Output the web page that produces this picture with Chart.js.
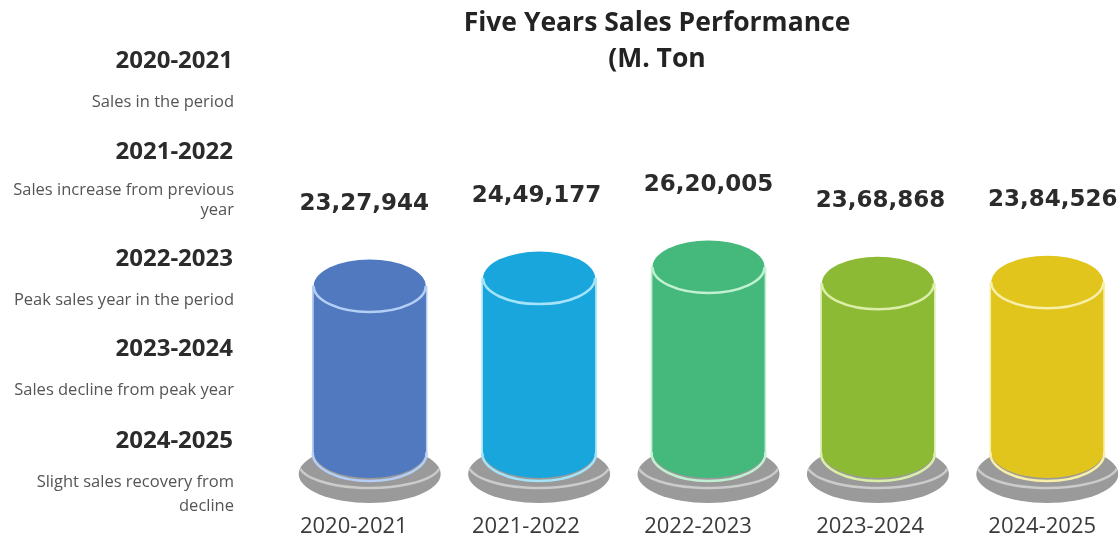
<!DOCTYPE html>
<html>
<head>
<meta charset="utf-8">
<title>Five Years Sales Performance</title>
<script src="https://cdn.jsdelivr.net/npm/chart.js@4"></script>
<style>
    html, body {margin: 0; padding: 0; background: #ffffff; overflow: hidden;}
    #frame {width: 1118px; height: 538px; overflow: hidden;}
    canvas {display: block;}
</style>
</head>
<body>
<div id="frame"><canvas id="sales_chart" width="1132" height="538"></canvas></div>
<script>
var categories = ["2020-2021", "2021-2022", "2022-2023", "2023-2024", "2024-2025"];
var sales_values = [2327944, 2449177, 2620005, 2368868, 2384526];
var value_labels = ["23,27,944", "24,49,177", "26,20,005", "23,68,868", "23,84,526"];
var title_lines = ["Five Years Sales Performance", "(M. Ton"];
var side_headings = ["2020-2021", "2021-2022", "2022-2023", "2023-2024", "2024-2025"];
var side_notes = [
    ["Sales in the period"],
    ["Sales increase from previous", "year"],
    ["Peak sales year in the period"],
    ["Sales decline from peak year"],
    ["Slight sales recovery from", "decline"]
];

var body_colors = ["#5079bf", "#19a6dd", "#45b97c", "#8dba35", "#e1c51d"];
var rim_colors = ["#b4cef5", "#a5e3f8", "#c2f0d3", "#dcefaa", "#f8efa8"];

// The cylinders stand on a floor below zero, the picture never starts its axis at 0
var axis_floor = -223600;
var axis_ceiling = 6724000;

var heading_rows = [61, 152, 259, 349, 441];
var note_rows = [[102], [190, 210], [300], [390], [482, 506]];

function fill_ellipse (ctx, x, y, radius_x, radius_y, color) {
    ctx.beginPath();
    ctx.ellipse(x, y, radius_x, radius_y, 0, 0, Math.PI * 2);
    ctx.fillStyle = color;
    ctx.fill();
}

function stroke_lower_arc (ctx, x, y, radius_x, radius_y, color, width, trim) {
    ctx.beginPath();
    ctx.ellipse(x, y, radius_x, radius_y, 0, trim || 0, Math.PI - (trim || 0));
    ctx.strokeStyle = color;
    ctx.lineWidth = width;
    ctx.stroke();
}

var cylinder_plugin = {
    "id": "cylinder_plugin",
    "beforeDatasetsDraw": function (chart) {
        var ctx = chart.ctx;
        var bars = chart.getDatasetMeta(0).data;

        ctx.save();

        bars.forEach(function (bar, index) {
            var radius_x = bar.width / 2;

            // Grey dish under the cylinder
            fill_ellipse(ctx, bar.x, bar.base + 22, radius_x + 15, 29, "#9a9a9a");
            stroke_lower_arc(ctx, bar.x, bar.base + 12, radius_x + 15, 24, "#cbcbcb", 2.5, 0.2);

            fill_ellipse(ctx, bar.x, bar.base, radius_x, 26, body_colors[index]);
            stroke_lower_arc(ctx, bar.x, bar.base + 1, radius_x + 1, 28, rim_colors[index], 2.5);
        });

        ctx.restore();
    },
    "afterDatasetsDraw": function (chart) {
        var ctx = chart.ctx;
        var bars = chart.getDatasetMeta(0).data;

        ctx.save();

        bars.forEach(function (bar, index) {
            var radius_x = bar.width / 2;

            ctx.strokeStyle = rim_colors[index];
            ctx.lineWidth = 1.5;

            ctx.beginPath();
            ctx.moveTo(bar.x - radius_x - 1, bar.y);
            ctx.lineTo(bar.x - radius_x - 1, bar.base + 1);
            ctx.moveTo(bar.x + radius_x + 1, bar.y);
            ctx.lineTo(bar.x + radius_x + 1, bar.base + 1);
            ctx.stroke();

            fill_ellipse(ctx, bar.x, bar.y, radius_x, 26.5, body_colors[index]);
            stroke_lower_arc(ctx, bar.x, bar.y, radius_x, 26, rim_colors[index], 2.5);

            ctx.fillStyle = "#2b2b2b";
            ctx.font = "bold 23px 'DejaVu Sans'";
            ctx.textAlign = "center";
            ctx.textBaseline = "middle";
            ctx.fillText(value_labels[index], bar.x + (index - 2) * 2.7, bar.y - 82);
        });

        ctx.restore();
    }
};

var text_plugin = {
    "id": "text_plugin",
    "afterDraw": function (chart) {
        var ctx = chart.ctx;
        var x_scale = chart.scales.x;

        ctx.save();
        ctx.textBaseline = "middle";

        ctx.textAlign = "center";
        ctx.fillStyle = "#232323";
        ctx.font = "bold 26.5px 'Open Sans'";
        ctx.fillText(title_lines[0], 657, 23);
        ctx.fillText(title_lines[1], 657, 59);

        // Category labels drift a little from their bars in the picture
        ctx.fillStyle = "#3a3a3a";
        ctx.font = "22px 'Open Sans'";

        categories.forEach(function (category, index) {
            ctx.fillText(category, x_scale.getPixelForTick(index) + (index - 2) * 2.7 - 10.5, 527);
        });

        ctx.textAlign = "right";

        side_headings.forEach(function (heading, index) {
            ctx.fillStyle = "#2b2b2b";
            ctx.font = "bold 24px 'Open Sans'";
            ctx.fillText(heading, 233, heading_rows[index]);

            ctx.fillStyle = "#555555";
            ctx.font = "16.5px 'Open Sans'";

            side_notes[index].forEach(function (line, line_index) {
                ctx.fillText(line, 234, note_rows[index][line_index]);
            });
        });

        ctx.restore();
    }
};

new Chart(document.getElementById("sales_chart").getContext("2d"), {
    "type": "bar",
    "data": {
        "labels": categories,
        "datasets": [{
            "data": sales_values,
            "base": axis_floor,
            "backgroundColor": body_colors,
            "borderWidth": 0,
            "barThickness": 112
        }]
    },
    "options": {
        "responsive": false,
        "animation": false,
        "layout": {
            "padding": {"left": 285, "right": 0, "top": 0, "bottom": 0}
        },
        "scales": {
            "x": {
                "afterFit": function (scale) {
                    scale.height = 86;
                    scale.paddingLeft = 0;
                    scale.paddingRight = 0;
                },
                "grid": {"display": false, "drawTicks": false},
                "border": {"display": false},
                "ticks": {"display": false}
            },
            "y": {
                "display": false,
                "min": axis_floor,
                "max": axis_ceiling
            }
        },
        "plugins": {
            "legend": {"display": false},
            "tooltip": {"enabled": false},
            "title": {"display": false}
        }
    },
    "plugins": [cylinder_plugin, text_plugin]
});
</script>
</body>
</html>
